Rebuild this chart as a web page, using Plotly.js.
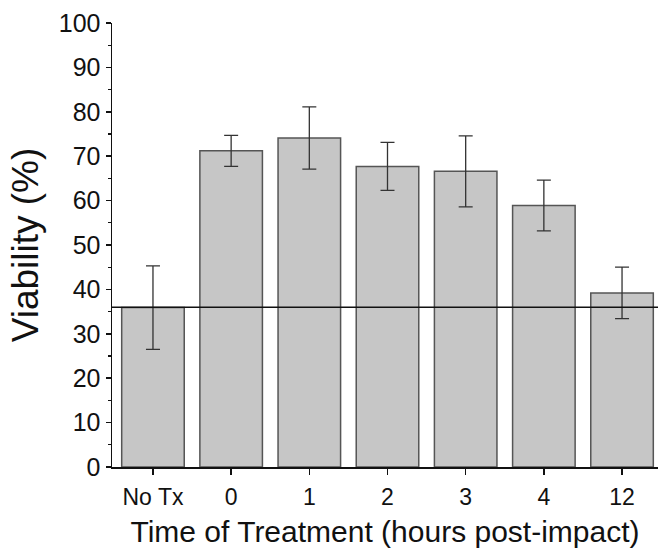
<!DOCTYPE html>
<html>
<head>
<meta charset="utf-8">
<script src="https://cdn.plot.ly/plotly-3.0.1.min.js"></script>
<style>html,body{margin:0;padding:0;background:#fff;}#chart{width:659px;height:548px;}</style>
</head>
<body>
<div id="chart"></div>
<script>
const categories = ['No Tx', '0', '1', '2', '3', '4', '12'];
const viability = [35.9, 71.2, 74.1, 67.7, 66.6, 58.9, 39.2];
const viabilityError = [9.4, 3.5, 7.0, 5.4, 8.0, 5.7, 5.8];
const baselineLevel = 36;
const yTickValues = [0, 10, 20, 30, 40, 50, 60, 70, 80, 90, 100];

const font = 'Liberation Sans, Arial, sans-serif';

const trace = {
  type: 'bar',
  x: categories,
  y: viability,
  width: 0.8,
  marker: {color: '#c6c6c6', line: {color: '#555555', width: 1.5}},
  error_y: {type: 'data', array: viabilityError, visible: true, color: '#333333', thickness: 1.3, width: 7},
  hoverinfo: 'none'
};

const layout = {
  width: 659, height: 548,
  margin: {l: 112, r: 1, t: 23, b: 81},
  paper_bgcolor: '#ffffff', plot_bgcolor: '#ffffff',
  showlegend: false,
  font: {family: font, color: '#111111'},
  xaxis: {
    type: 'category',
    range: [-0.524, 6.46],
    showline: true, linecolor: '#111111', linewidth: 1.5,
    ticks: 'outside', ticklen: 6, tickwidth: 1.5, tickcolor: '#111111',
    showgrid: false, zeroline: false,
    tickfont: {family: font, size: 23, color: '#111111'},
    ticklabelstandoff: 3,
    title: {text: 'Time of Treatment (hours post-impact)', font: {family: font, size: 30, color: '#111111'}, standoff: 17}
  },
  yaxis: {
    range: [0, 100],
    tickvals: yTickValues,
    showline: true, linecolor: '#111111', linewidth: 1.5,
    ticks: 'outside', ticklen: 5, tickwidth: 1.5, tickcolor: '#111111',
    minor: {dtick: 5, ticks: 'outside', ticklen: 3, tickwidth: 1.2, tickcolor: '#111111', showgrid: false},
    showgrid: false, zeroline: false,
    tickfont: {family: font, size: 25, color: '#111111'},
    ticklabelstandoff: 0,
    title: {text: 'Viability (%)', font: {family: font, size: 37, color: '#111111'}, standoff: 9}
  },
  shapes: [{
    type: 'line', xref: 'paper', yref: 'y', x0: 0, x1: 1, y0: baselineLevel, y1: baselineLevel,
    line: {color: '#111111', width: 1.5}
  }]
};

Plotly.newPlot('chart', [trace], layout, {staticPlot: true, displayModeBar: false});
</script>
</body>
</html>
